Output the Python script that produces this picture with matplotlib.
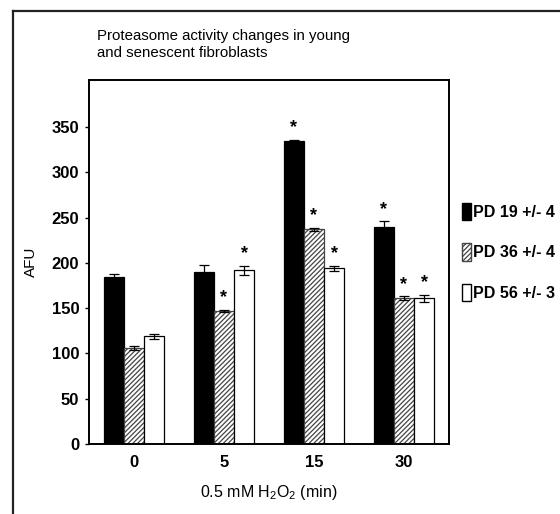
import matplotlib
matplotlib.use("Agg")
import matplotlib.pyplot as plt
import numpy as np
from matplotlib.patches import Patch
from matplotlib.lines import Line2D

plt.rcParams['font.family'] = ['Liberation Sans', 'DejaVu Sans']
plt.rcParams['mathtext.fontset'] = 'custom'
plt.rcParams['mathtext.rm'] = 'Liberation Sans'
plt.rcParams['mathtext.it'] = 'Liberation Sans:italic'
plt.rcParams['hatch.linewidth'] = 0.9

categories = ['0', '5', '15', '30']
series_labels = ['PD 19 +/- 4', 'PD 36 +/- 4', 'PD 56 +/- 3']
pd19 = [184, 190, 335, 240]
pd19_err = [4, 8, 1, 6]
pd36 = [106, 147, 237, 161]
pd36_err = [2, 1, 2, 2]
pd56 = [119, 192, 194, 161]
pd56_err = [3, 5, 3, 4]
pd19_sig = [False, False, True, True]
pd36_sig = [False, True, True, True]
pd56_sig = [False, True, True, True]

fig = plt.figure(figsize=(5.6, 5.14), dpi=100)
ax = fig.add_axes([89/560, 1-444/514, 360/560, 364/514])

x = np.arange(len(categories))
w = 0.225
styles = [dict(color='black', edgecolor='black'),
          dict(color='white', edgecolor='#444444', hatch='///////'),
          dict(color='white', edgecolor='black')]
data = [(pd19, pd19_err, pd19_sig), (pd36, pd36_err, pd36_sig), (pd56, pd56_err, pd56_sig)]
for i, ((vals, errs, sig), st) in enumerate(zip(data, styles)):
    xs = x + (i - 1) * w
    ax.bar(xs, vals, width=w, linewidth=0.9, zorder=2, **st)
    ax.errorbar(xs, vals, yerr=errs, fmt='none', ecolor='black', elinewidth=0.9,
                capsize=3.5, capthick=0.9, zorder=3)
    for xi, v, e, s in zip(xs, vals, errs, sig):
        if s:
            ax.text(xi, v + e + 4, '*', ha='center', va='bottom', fontsize=13,
                    fontweight='bold')

ax.set_xlim(-0.5, 3.5)
ax.set_ylim(0, 402)
ax.set_yticks(range(0, 351, 50))
ax.set_xticks(x)
ax.set_xticklabels(categories)
ax.tick_params(axis='x', length=0, pad=8)
ax.tick_params(axis='y', length=3, direction='out', width=1, pad=4)
for lab in ax.get_xticklabels() + ax.get_yticklabels():
    lab.set_fontweight('bold')
    lab.set_fontsize(12)
for sp in ax.spines.values():
    sp.set_linewidth(1.4)

ax.set_ylabel('AFU', fontsize=11, labelpad=10)
ax.set_xlabel('0.5 mM H$_\\mathregular{2}$O$_\\mathregular{2}$ (min)', fontsize=11.5, labelpad=9)

fig.text(97/560, 1-29/514, 'Proteasome activity changes in young\nand senescent fibroblasts',
         ha='left', va='top', fontsize=10.8, linespacing=1.3)

handles = [Patch(facecolor='black', edgecolor='black'),
           Patch(facecolor='white', edgecolor='#444444', hatch='///////'),
           Patch(facecolor='white', edgecolor='black')]
leg = fig.legend(handles, series_labels, loc='upper left',
                 bbox_to_anchor=(449/560, 1-190/514), frameon=False,
                 handlelength=0.55, handleheight=1.3, handletextpad=0.15,
                 labelspacing=1.45, borderpad=0.3,
                 prop={'weight': 'bold', 'size': 11.5})

fig.add_artist(Line2D([13/560, 13/560], [1-11/514, 0], transform=fig.transFigure,
                      color='#222222', linewidth=1.6))
fig.add_artist(Line2D([13/560, 1], [1-11/514, 1-11/514], transform=fig.transFigure,
                      color='#222222', linewidth=1.6))

fig.savefig('out.png', dpi=100)
